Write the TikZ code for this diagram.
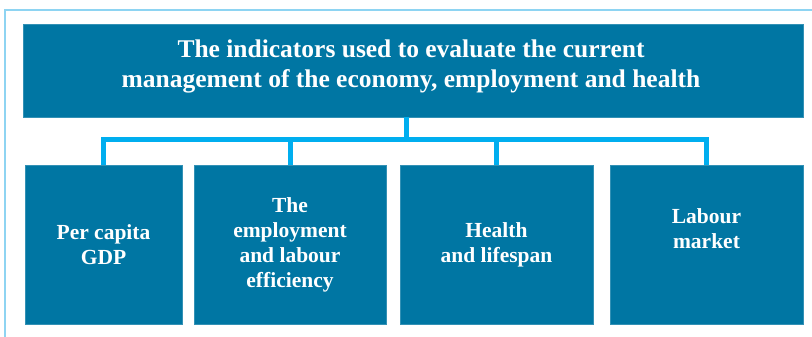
\documentclass[tikz,border=0pt]{standalone}
\usepackage{fontspec}
\setmainfont{Liberation Serif}
\usetikzlibrary{positioning}
\definecolor{boxblue}{HTML}{0076A3}
\definecolor{busblue}{HTML}{00AEEF}
\definecolor{framecol}{HTML}{8ED4F2}
\tikzstyle{headbox}=[rectangle, fill=boxblue, draw=boxblue!80!white, text=white, align=center, inner sep=0pt]
\tikzstyle{itembox}=[rectangle, fill=boxblue, draw=boxblue!80!white, text=white, font=\bfseries\fontsize{21.5}{25}\selectfont, align=center, inner sep=0pt, minimum height=159pt]
\tikzstyle{bus}=[line width=5pt, draw=busblue, line join=miter]

\begin{document}
\begin{tikzpicture}[x=1pt, y=-1pt]
        \useasboundingbox (0,0) rectangle (812,337);

        % outer frame
        \draw[framecol, line width=1.5pt] (5,337) -- (5,10) -- (812,10);

        \node[headbox, minimum width=780pt, minimum height=93pt] (top) at (413,70.5) {};
        \node[text=white, font=\bfseries\fontsize{25.5}{30}\selectfont, align=center] (toptxt) at (411,66)
            {The indicators used to evaluate the current\\management of the economy, employment and health};

        \node[itembox, minimum width=157pt] (b1) at (103.5,244.5) {Per capita\\GDP};
        \node[itembox, minimum width=192pt] (b2) at (290,244.5) {The\\employment\\and labour\\efficiency};
        \node[itembox, minimum width=193pt] (b3) at (496.5,244.5) {Health\\and lifespan};
        \node[itembox, minimum width=193pt] (b4) at (706.5,244.5) {};
        \node[text=white, font=\bfseries\fontsize{21.5}{25}\selectfont, align=center] (b4txt) at (706.5,229) {Labour\\market};

        % connectors
        \coordinate (j) at (406,139);
        \draw[bus] (top.south -| j) -- (j);
        \draw[bus] (b1.north) |- (j) -| (b4.north);
        \foreach \i in {2,3} {
            \draw[bus] (b\i.north) -- (b\i.north |- j);
        }
    \end{tikzpicture}
\end{document}
